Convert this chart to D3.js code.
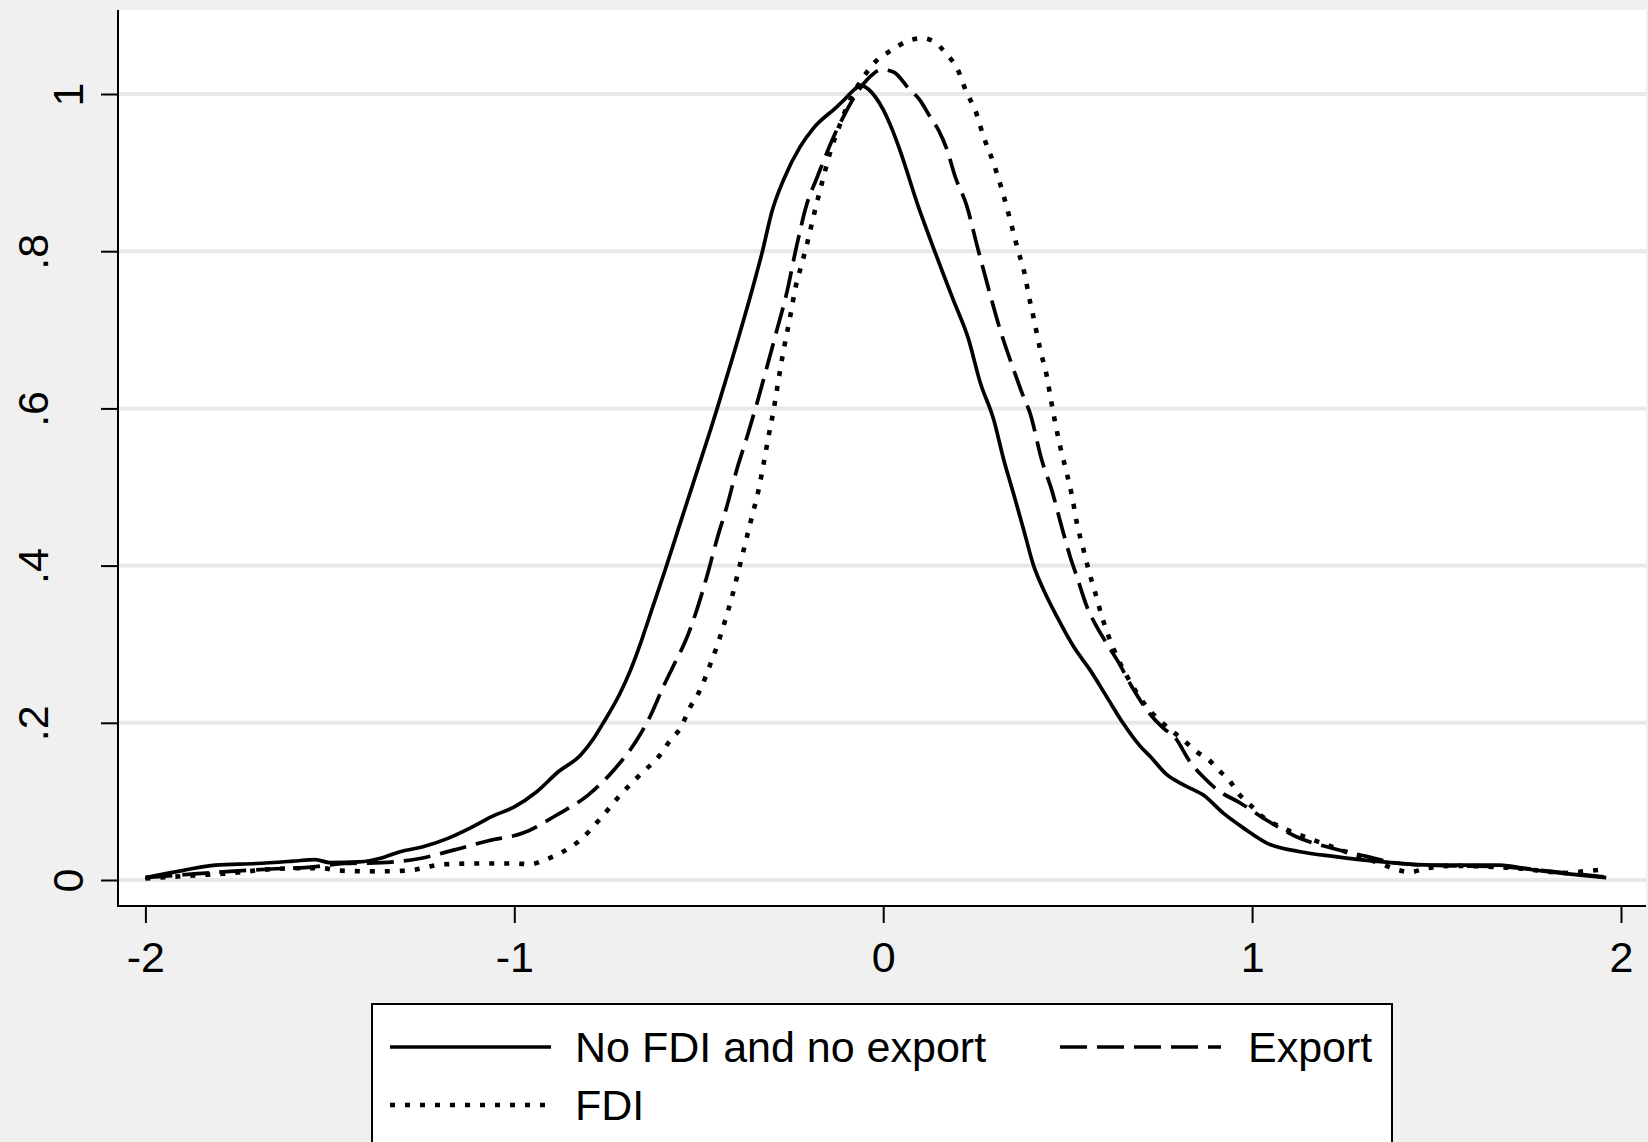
<!DOCTYPE html>
<html>
<head>
<meta charset="utf-8">
<script src="https://cdn.jsdelivr.net/npm/d3@7"></script>
<style>
  html, body { margin: 0; padding: 0; background: #f0f0f0; overflow: hidden; }
  svg { display: block; font-family: "Liberation Sans", Arial, sans-serif; }
</style>
</head>
<body>
<svg id="chart" width="1648" height="1142"></svg>
<script>
// ---------- data ----------
const xTicks = [-2, -1, 0, 1, 2];
const xTickLabels = ["-2", "-1", "0", "1", "2"];
const yTicks = [0, 0.2, 0.4, 0.6, 0.8, 1];
const yTickLabels = ["0", ".2", ".4", ".6", ".8", "1"];

const seriesNames = ["No FDI and no export", "Export", "FDI"];

// kernel density: No FDI and no export  [x, density]
const noneDensity = [
  [-2.00,0.003],[-1.90,0.012],[-1.81,0.019],[-1.70,0.021],[-1.60,0.024],[-1.54,0.026],
  [-1.50,0.022],[-1.42,0.023],[-1.36,0.028],[-1.31,0.036],[-1.25,0.042],[-1.18,0.053],
  [-1.12,0.066],[-1.06,0.081],[-1.00,0.093],[-0.94,0.112],[-0.88,0.138],[-0.82,0.159],
  [-0.785,0.180],[-0.76,0.199],[-0.715,0.236],[-0.685,0.267],[-0.655,0.305],[-0.63,0.340],
  [-0.59,0.396],[-0.555,0.447],[-0.515,0.505],[-0.47,0.570],[-0.45,0.600],[-0.41,0.662],
  [-0.35,0.760],[-0.33,0.795],[-0.30,0.853],[-0.27,0.891],[-0.225,0.933],[-0.19,0.956],
  [-0.125,0.984],[-0.105,0.993],[-0.08,1.005],[-0.06,1.011],[-0.04,1.006],[0.00,0.980],
  [0.025,0.954],[0.045,0.929],[0.095,0.857],[0.13,0.812],[0.19,0.738],[0.23,0.690],
  [0.263,0.633],[0.30,0.585],[0.326,0.536],[0.353,0.492],[0.38,0.447],[0.407,0.401],
  [0.435,0.369],[0.471,0.335],[0.516,0.297],[0.561,0.267],[0.606,0.233],[0.651,0.199],
  [0.697,0.170],[0.724,0.157],[0.769,0.134],[0.814,0.121],[0.868,0.108],[0.922,0.085],
  [0.977,0.066],[1.04,0.047],[1.13,0.036],[1.22,0.030],[1.356,0.023],[1.49,0.019],
  [1.67,0.019],[1.76,0.013],[1.85,0.008],[1.96,0.003]
];

// kernel density: Export
const exportDensity = [
  [-2.00,0.003],[-1.86,0.008],[-1.77,0.011],[-1.66,0.014],[-1.56,0.016],[-1.46,0.021],
  [-1.36,0.022],[-1.26,0.027],[-1.165,0.038],[-1.07,0.050],[-0.975,0.060],[-0.884,0.083],
  [-0.80,0.108],[-0.73,0.140],[-0.668,0.178],[-0.632,0.208],[-0.596,0.246],[-0.565,0.276],
  [-0.537,0.303],[-0.505,0.344],[-0.478,0.386],[-0.451,0.433],[-0.424,0.475],[-0.397,0.522],
  [-0.369,0.564],[-0.342,0.607],[-0.315,0.653],[-0.288,0.700],[-0.262,0.746],[-0.234,0.808],
  [-0.207,0.860],[-0.18,0.893],[-0.13,0.950],[-0.108,0.971],[-0.044,1.018],[-0.004,1.031],
  [0.028,1.028],[0.069,1.007],[0.10,0.992],[0.127,0.971],[0.15,0.954],[0.173,0.929],
  [0.195,0.895],[0.227,0.857],[0.254,0.808],[0.28,0.762],[0.317,0.700],[0.353,0.650],
  [0.38,0.615],[0.398,0.594],[0.43,0.534],[0.457,0.496],[0.484,0.449],[0.507,0.411],
  [0.525,0.386],[0.552,0.348],[0.579,0.322],[0.606,0.301],[0.634,0.280],[0.679,0.242],
  [0.715,0.216],[0.76,0.193],[0.79,0.182],[0.832,0.150],[0.868,0.131],[0.905,0.115],
  [0.968,0.098],[1.04,0.076],[1.12,0.055],[1.22,0.040],[1.31,0.030],[1.40,0.021],
  [1.54,0.018],[1.67,0.017],[1.81,0.011],[1.953,0.004]
];

// kernel density: FDI
const fdiDensity = [
  [-2.00,0.002],[-1.86,0.006],[-1.76,0.009],[-1.68,0.013],[-1.58,0.015],[-1.52,0.015],
  [-1.48,0.012],[-1.37,0.011],[-1.29,0.012],[-1.19,0.020],[-1.09,0.021],[-1.00,0.021],
  [-0.957,0.020],[-0.921,0.025],[-0.876,0.034],[-0.821,0.051],[-0.767,0.078],[-0.713,0.108],
  [-0.659,0.134],[-0.605,0.159],[-0.577,0.178],[-0.550,0.193],[-0.523,0.220],[-0.496,0.242],
  [-0.469,0.274],[-0.451,0.297],[-0.428,0.331],[-0.41,0.360],[-0.392,0.394],[-0.374,0.428],
  [-0.356,0.462],[-0.338,0.496],[-0.324,0.530],[-0.311,0.564],[-0.297,0.598],[-0.284,0.636],
  [-0.27,0.674],[-0.252,0.717],[-0.239,0.751],[-0.22,0.785],[-0.205,0.812],[-0.189,0.844],
  [-0.171,0.878],[-0.157,0.903],[-0.139,0.933],[-0.126,0.950],[-0.098,0.984],[-0.071,1.009],
  [-0.053,1.022],[-0.017,1.043],[0.024,1.056],[0.064,1.067],[0.105,1.071],[0.136,1.067],
  [0.173,1.050],[0.20,1.033],[0.227,1.001],[0.249,0.980],[0.272,0.946],[0.299,0.912],
  [0.322,0.878],[0.344,0.840],[0.365,0.802],[0.385,0.768],[0.394,0.745],[0.407,0.717],
  [0.426,0.674],[0.444,0.640],[0.455,0.610],[0.48,0.551],[0.498,0.517],[0.512,0.488],
  [0.525,0.454],[0.543,0.420],[0.557,0.394],[0.575,0.365],[0.593,0.335],[0.611,0.310],
  [0.634,0.284],[0.661,0.259],[0.715,0.220],[0.769,0.195],[0.814,0.178],[0.85,0.163],
  [0.882,0.153],[0.909,0.140],[0.941,0.125],[0.963,0.110],[0.99,0.098],[1.022,0.083],
  [1.094,0.064],[1.166,0.051],[1.266,0.034],[1.347,0.021],[1.393,0.013],[1.429,0.010],
  [1.465,0.014],[1.537,0.018],[1.717,0.015],[1.853,0.009],[1.898,0.011],[1.944,0.013]
];

// ---------- layout ----------
const W = 1648, H = 1142;
const plot = { left: 118, top: 10, right: 1646, bottom: 906 };
const FONT = 43;

const svg = d3.select("#chart");

const x = d3.scaleLinear().domain([-2, 2]).range([145.4, 1621]);
const y = d3.scaleLinear().domain([0, 1]).range([880, 94]);

// backgrounds
svg.append("rect").attr("x", 0).attr("y", 0).attr("width", W).attr("height", H).attr("fill", "#f0f0f0");
svg.append("rect")
  .attr("x", plot.left).attr("y", plot.top)
  .attr("width", plot.right - plot.left).attr("height", plot.bottom - plot.top)
  .attr("fill", "#ffffff");

// gridlines
svg.append("g").selectAll("line").data(yTicks).join("line")
  .attr("x1", plot.left + 1).attr("x2", plot.right)
  .attr("y1", d => y(d)).attr("y2", d => y(d))
  .attr("stroke", "#e8e8e8").attr("stroke-width", 4);

// density curves
const line = d3.line().x(d => x(d[0])).y(d => y(d[1])).curve(d3.curveMonotoneX);
const styles = [
  { data: noneDensity, dash: null, width: 3.7 },
  { data: exportDensity, dash: "27,10", width: 3.7 },
  { data: fdiDensity, dash: "5,10", width: 4.6 }
];
svg.append("g").selectAll("path").data(styles).join("path")
  .attr("d", d => line(d.data))
  .attr("fill", "none")
  .attr("stroke", "#000")
  .attr("stroke-width", d => d.width)
  .attr("stroke-linejoin", "round")
  .attr("stroke-dasharray", d => d.dash);

// axes
const yAxis = d3.axisLeft(y).tickValues(yTicks).tickFormat((d, i) => yTickLabels[i])
  .tickSize(17).tickSizeOuter(0);
const gy = svg.append("g").attr("transform", `translate(${plot.left},0)`).call(yAxis);
gy.select(".domain").remove();
gy.selectAll(".tick line").attr("stroke", "#000").attr("stroke-width", 2);
gy.selectAll(".tick text")
  .attr("x", 0).attr("y", 0).attr("dy", 0)
  .attr("text-anchor", "middle")
  .attr("fill", "#000")
  .style("font-size", FONT + "px")
  .style("font-family", '"Liberation Sans", Arial, sans-serif')
  .attr("transform", (d, i) => {
    const base = yTickLabels[i].includes(".") ? 48 : 83;
    return `translate(${base - plot.left},0) rotate(-90)`;
  });

const xAxis = d3.axisBottom(x).tickValues(xTicks).tickFormat((d, i) => xTickLabels[i])
  .tickSize(17).tickSizeOuter(0);
const gx = svg.append("g").attr("transform", `translate(0,${plot.bottom})`).call(xAxis);
gx.select(".domain").remove();
gx.selectAll(".tick line").attr("stroke", "#000").attr("stroke-width", 2);
gx.selectAll(".tick text")
  .attr("y", 66).attr("dy", 0)
  .attr("fill", "#000")
  .style("font-size", FONT + "px")
  .style("font-family", '"Liberation Sans", Arial, sans-serif');

// axis lines
svg.append("line").attr("x1", plot.left).attr("x2", plot.left)
  .attr("y1", plot.top).attr("y2", plot.bottom + 1)
  .attr("stroke", "#000").attr("stroke-width", 2);
svg.append("line").attr("x1", plot.left - 1).attr("x2", plot.right)
  .attr("y1", plot.bottom).attr("y2", plot.bottom)
  .attr("stroke", "#000").attr("stroke-width", 2);

// legend
const lg = svg.append("g");
lg.append("rect").attr("x", 372).attr("y", 1004).attr("width", 1020).attr("height", 200)
  .attr("fill", "#fff").attr("stroke", "#000").attr("stroke-width", 2);
const legendItems = [
  { name: seriesNames[0], style: styles[0], sx: 390, tx: 575, cy: 1047 },
  { name: seriesNames[1], style: styles[1], sx: 1060, tx: 1248, cy: 1047 },
  { name: seriesNames[2], style: styles[2], sx: 390, tx: 575, cy: 1105 }
];
const li = lg.selectAll("g.item").data(legendItems).join("g").attr("class", "item");
li.append("line")
  .attr("x1", d => d.sx).attr("x2", d => d.sx + 161)
  .attr("y1", d => d.cy).attr("y2", d => d.cy)
  .attr("stroke", "#000")
  .attr("stroke-width", d => d.style.width)
  .attr("stroke-dasharray", d => d.style.dash);
li.append("text")
  .attr("x", d => d.tx).attr("y", d => d.cy + 15)
  .style("font-size", FONT + "px")
  .attr("fill", "#000")
  .text(d => d.name);
</script>
</body>
</html>
